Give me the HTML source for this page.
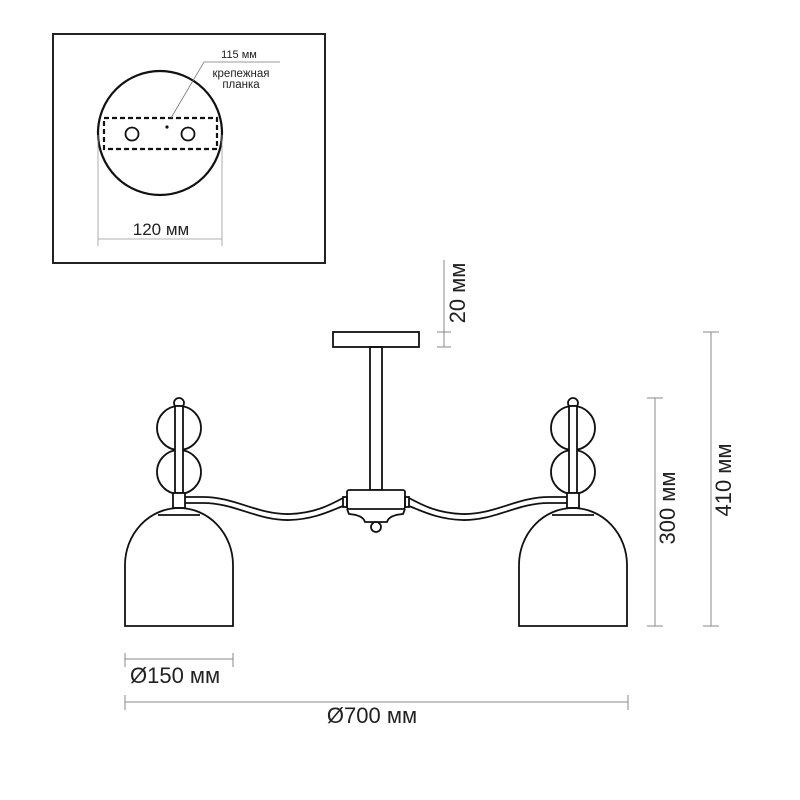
<!DOCTYPE html>
<html><head><meta charset="utf-8"><style>
html,body{margin:0;padding:0;background:#fff;}
svg{display:block;}
text{font-family:"Liberation Sans","DejaVu Sans",sans-serif;fill:#222;}
</style></head><body>
<svg width="800" height="800" viewBox="0 0 800 800" xmlns="http://www.w3.org/2000/svg">
<!-- inset box -->
<rect x="53" y="34" width="272" height="229" fill="none" stroke="#222" stroke-width="2"/>
<circle cx="160" cy="133" r="62" fill="none" stroke="#111" stroke-width="2.2"/>
<rect x="104" y="118" width="113" height="31" fill="none" stroke="#111" stroke-width="2.2" stroke-dasharray="5,3"/>
<circle cx="132" cy="134" r="6.5" fill="none" stroke="#111" stroke-width="1.8"/>
<circle cx="188" cy="134" r="6.5" fill="none" stroke="#111" stroke-width="1.8"/>
<circle cx="167" cy="127" r="1.6" fill="#111"/>
<polyline points="171,118 204,62 280,62" fill="none" stroke="#777" stroke-width="0.8"/>
<text x="239" y="58" font-size="11" text-anchor="middle">115 мм</text>
<text x="241" y="77" font-size="11.5" text-anchor="middle">крепежная</text>
<text x="241" y="88" font-size="11.5" text-anchor="middle">планка</text>
<line x1="98" y1="135" x2="98" y2="246" stroke="#999" stroke-width="0.8"/>
<line x1="222" y1="135" x2="222" y2="246" stroke="#999" stroke-width="0.8"/>
<line x1="98" y1="239" x2="222" y2="239" stroke="#999" stroke-width="0.8"/>
<text x="161" y="235" font-size="17" text-anchor="middle">120 мм</text>

<!-- chandelier -->
<g fill="none" stroke="#111" stroke-width="1.8">
<rect x="333" y="332" width="86" height="15" fill="#fff"/>
<rect x="370" y="347" width="12" height="143"/>
<rect x="347" y="490" width="58" height="19" rx="2" fill="#fff"/>
<path d="M347,509 L349,514 Q363,515 365,522 L387,522 Q389,515 403,514 L405,509"/>
<circle cx="376" cy="527" r="5" fill="#fff"/>
<g id="L">
<rect x="343" y="497" width="4" height="10"/>
<path d="M185,497 L203,497 C235,497 258,515 290,514 C315,513 330,505 343,498"/>
<path d="M185,503 L203,503 C235,503 258,521 290,520 C315,519 330,511 343,506"/>
<circle cx="179" cy="403" r="5" fill="#fff"/>
<circle cx="179" cy="428" r="22"/>
<circle cx="179" cy="472" r="22"/>
<rect x="175" y="406" width="8" height="87" fill="#fff"/>
<rect x="173" y="493" width="12" height="15" fill="#fff"/>
<path d="M125,626 L125,565 A54,57 0 0 1 233,565 L233,626 Z"/>
<line x1="158" y1="515" x2="200" y2="515"/>
</g>
<use href="#L" transform="translate(752,0) scale(-1,1)"/>
</g>

<!-- dimensions -->
<g stroke="#888" stroke-width="1">
<line x1="444" y1="260" x2="444" y2="347"/>
<line x1="437" y1="332" x2="451" y2="332"/>
<line x1="437" y1="347" x2="451" y2="347"/>
<line x1="655" y1="398" x2="655" y2="626"/>
<line x1="647" y1="398" x2="663" y2="398"/>
<line x1="647" y1="626" x2="663" y2="626"/>
<line x1="711" y1="332" x2="711" y2="626"/>
<line x1="703" y1="332" x2="719" y2="332"/>
<line x1="703" y1="626" x2="719" y2="626"/>
<line x1="125" y1="659" x2="233" y2="659"/>
<line x1="125" y1="653" x2="125" y2="667"/>
<line x1="233" y1="653" x2="233" y2="667"/>
<line x1="125" y1="702" x2="628" y2="702"/>
<line x1="125" y1="695" x2="125" y2="710"/>
<line x1="628" y1="695" x2="628" y2="710"/>
</g>
<text x="0" y="0" font-size="22" text-anchor="middle" transform="translate(465,293) rotate(-90)">20 мм</text>
<text x="0" y="0" font-size="22" text-anchor="middle" transform="translate(675,508) rotate(-90)">300 мм</text>
<text x="0" y="0" font-size="22" text-anchor="middle" transform="translate(731,480) rotate(-90)">410 мм</text>
<text x="130" y="683" font-size="22">Ø150 мм</text>
<text x="372" y="723" font-size="22" text-anchor="middle">Ø700 мм</text>
</svg>
</body></html>
